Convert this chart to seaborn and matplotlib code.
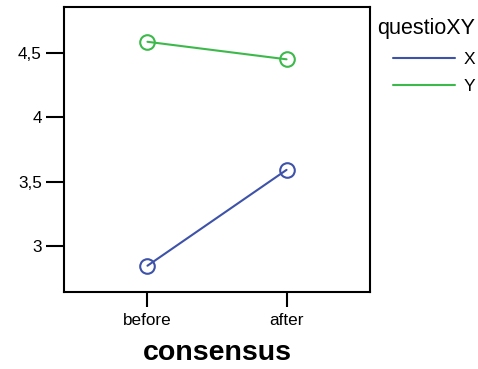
import matplotlib.pyplot as plt
import numpy as np
import pandas as pd
import seaborn as sns

# values
phases = ["before", "after"]
x_means = [2.847, 3.591]
y_means = [4.585, 4.449]
groups = ["X", "Y"]
colors = {"X": "#3d52a8", "Y": "#3cb94a"}

df = pd.DataFrame({
    "consensus": phases * 2,
    "score": x_means + y_means,
    "questioXY": ["X"] * 2 + ["Y"] * 2,
})

sns.set_style("white")
plt.rcParams["font.family"] = ["Liberation Sans", "DejaVu Sans"]
plt.rcParams["text.color"] = "black"
plt.rcParams["axes.labelcolor"] = "black"
plt.rcParams["xtick.color"] = "black"
plt.rcParams["ytick.color"] = "black"

fig = plt.figure(figsize=(4.78, 3.69), dpi=100)
ax = fig.add_axes([64 / 478, 1 - 292 / 369, (370 - 64) / 478, (292 - 7) / 369])

sns.pointplot(
    data=df, x="consensus", y="score", hue="questioXY", order=phases,
    hue_order=groups, palette=colors, markers="o", errorbar=None,
    markersize=10.5, markerfacecolor="none", markeredgewidth=1.5,
    linewidth=1.5, ax=ax, legend=False,
)

ax.set_xlim(-0.6, 1.6)
ax.set_ylim(2.643, 4.855)
ax.set_yticks([3, 3.5, 4, 4.5])
ax.set_yticklabels(["3", "3,5", "4", "4,5"])
ax.set_ylabel("")
ax.set_xlabel("consensus", fontsize=20.5, fontweight="bold", labelpad=9)

for s in ax.spines.values():
    s.set_linewidth(1.5)
    s.set_color("black")
ax.tick_params(axis="y", length=13, width=1.5, pad=3, labelsize=12.3, direction="out", left=True)
ax.tick_params(axis="x", length=10.8, width=1.5, pad=4, labelsize=12.3, direction="out", bottom=True)

handles = [plt.Line2D([], [], color=colors[g], lw=1.5) for g in groups]
leg = fig.legend(
    handles, groups, title="questioXY", loc="upper left",
    bbox_to_anchor=(377 / 478, 1 - 18 / 369), frameon=False,
    fontsize=12.5, title_fontsize=15.5, handlelength=3.6,
    handletextpad=0.45, borderpad=0, borderaxespad=0, labelspacing=0.72,
    alignment="right",
)

fig.savefig("out.png", dpi=100)
